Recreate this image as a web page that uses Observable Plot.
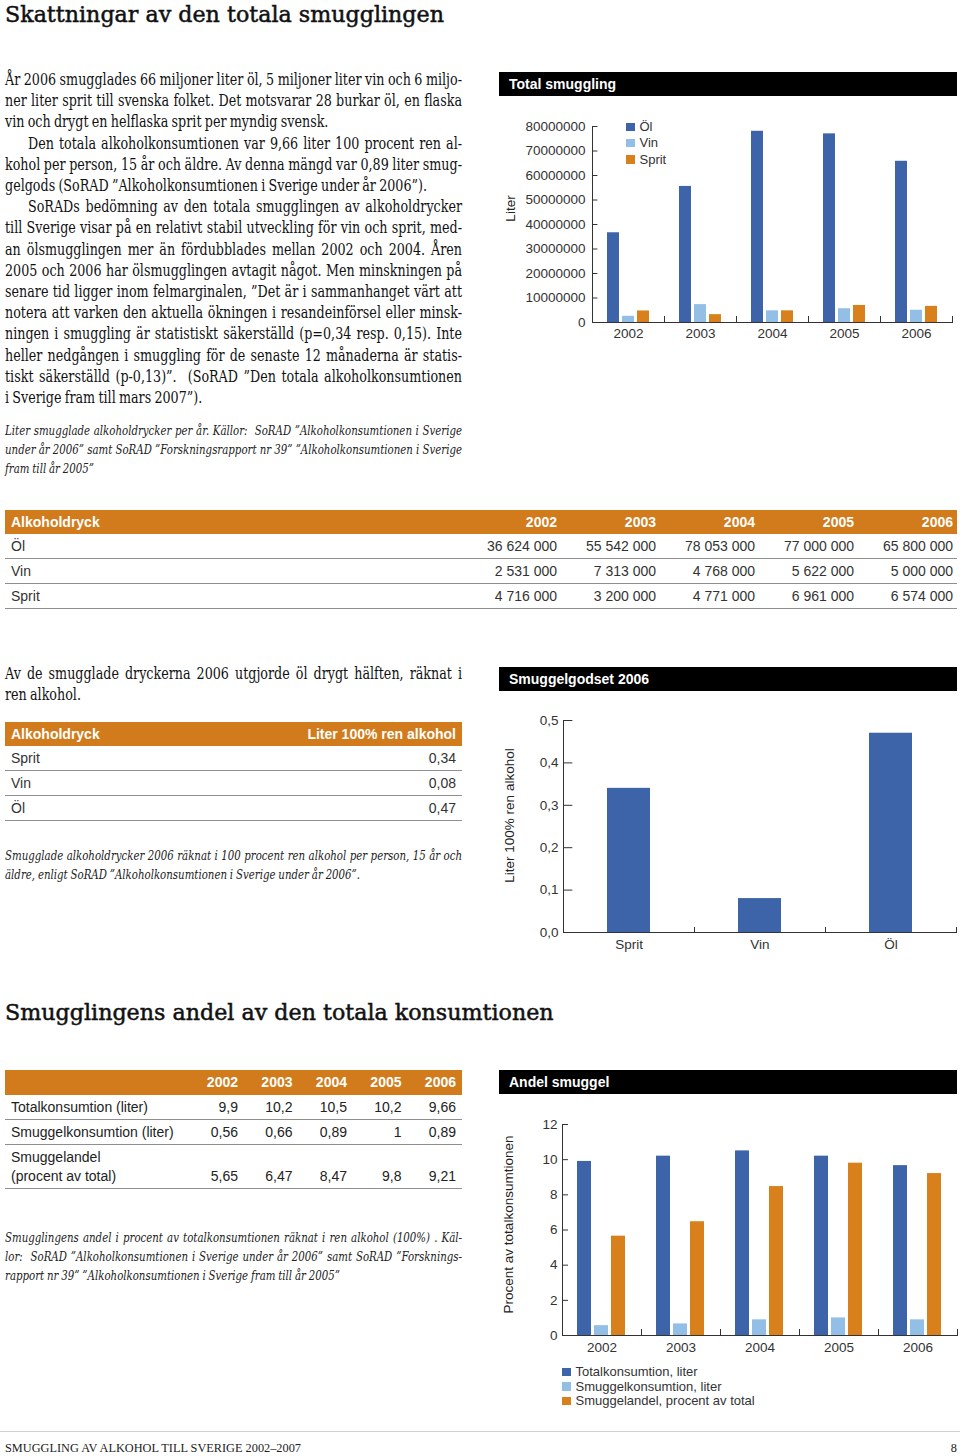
<!DOCTYPE html>
<html lang="sv">
<head>
<meta charset="utf-8">
<script src="https://cdn.jsdelivr.net/npm/d3@7"></script>
<script src="https://cdn.jsdelivr.net/npm/@observablehq/plot@0.6"></script>
<style>
html,body{margin:0;padding:0;background:#fff;}
#page{position:relative;width:960px;height:1456px;overflow:hidden;color:#1a1a1a;}
.a{position:absolute;}
.h{font-family:"DejaVu Serif",serif;font-size:22.2px;line-height:1;white-space:nowrap;color:#111;-webkit-text-stroke:0.5px #111;}
.txt{font-family:"DejaVu Serif",serif;font-size:16px;line-height:21.2px;width:457px;color:#111;word-spacing:-1px;}
.txt div,.cap div{text-align:justify;text-align-last:justify;}
.txt div.e,.cap div.e{text-align-last:left;}
.txt div.i{text-indent:23px;}
.cap{font-family:"DejaVu Serif",serif;font-style:italic;font-size:13px;line-height:19px;width:457px;color:#222;word-spacing:-0.5px;}
.bar{background:#000;color:#fff;font:bold 14px "Liberation Sans",Arial,sans-serif;height:24px;line-height:24px;padding-left:10px;box-sizing:border-box;width:458px;}
.tbl{font-family:"Liberation Sans",Arial,sans-serif;font-size:14px;color:#333;}
.tr{display:flex;height:24px;line-height:24px;border-bottom:1px solid #8f8f8f;}
.tr.hd{background:#d17b1c;color:#fff;font-weight:bold;border-bottom:none;}
.tr.hd.t3{height:25px;line-height:25px;}
.tr.tall{height:43px;line-height:19px;}
.c{box-sizing:border-box;white-space:nowrap;}
.c.l{padding-left:6px;text-align:left;}
.c.r{text-align:right;}
.leg{font-family:"Liberation Sans",Arial,sans-serif;font-size:13px;color:#333;white-space:nowrap;}
.sw{display:inline-block;width:8.5px;height:8.5px;margin-right:5px;vertical-align:0px;}
.foot{font-family:"Liberation Serif",serif;font-size:12.3px;line-height:14px;color:#222;}
</style>
</head>
<body>
<div id="page">
<div class="a h" style="left:5px;top:3px">Skattningar av den totala smugglingen</div>

<div class="a txt" style="left:5px;top:69px">
<div>År 2006 smugglades 66 miljoner liter öl, 5 miljoner liter vin och 6 miljo-</div>
<div>ner liter sprit till svenska folket. Det motsvarar 28 burkar öl, en flaska</div>
<div class="e">vin och drygt en helflaska sprit per myndig svensk.</div>
<div class="i">Den totala alkoholkonsumtionen var 9,66 liter 100 procent ren al-</div>
<div>kohol per person, 15 år och äldre. Av denna mängd var 0,89 liter smug-</div>
<div class="e">gelgods (SoRAD ”Alkoholkonsumtionen i Sverige under år 2006”).</div>
<div class="i">SoRADs bedömning av den totala smugglingen av alkoholdrycker</div>
<div>till Sverige visar på en relativt stabil utveckling för vin och sprit, med-</div>
<div>an ölsmugglingen mer än fördubblades mellan 2002 och 2004. Åren</div>
<div>2005 och 2006 har ölsmugglingen avtagit något. Men minskningen på</div>
<div>senare tid ligger inom felmarginalen, ”Det är i sammanhanget värt att</div>
<div>notera att varken den aktuella ökningen i resandeinförsel eller minsk-</div>
<div>ningen i smuggling är statistiskt säkerställd (p=0,34 resp. 0,15). Inte</div>
<div>heller nedgången i smuggling för de senaste 12 månaderna är statis-</div>
<div>tiskt säkerställd (p-0,13)”.&nbsp; (SoRAD ”Den totala alkoholkonsumtionen</div>
<div class="e">i Sverige fram till mars 2007”).</div>
</div>

<div class="a cap" style="left:5px;top:421px">
<div>Liter smugglade alkoholdrycker per år. Källor:&nbsp; SoRAD ”Alkoholkonsumtionen i Sverige</div>
<div>under år 2006” samt SoRAD ”Forskningsrapport nr 39” ”Alkoholkonsumtionen i Sverige</div>
<div class="e">fram till år 2005”</div>
</div>

<div class="a bar" style="left:499px;top:72px">Total smuggling</div>
<div class="a" id="chart1" style="left:495px;top:100px"></div>
<div class="a leg" id="leg1" style="left:626px;top:119px;line-height:16.3px"></div>

<div class="a tbl" id="t1" style="left:5px;top:510px;width:952px"></div>

<div class="a txt" style="left:5px;top:663px">
<div>Av de smugglade dryckerna 2006 utgjorde öl drygt hälften, räknat i</div>
<div class="e">ren alkohol.</div>
</div>

<div class="a tbl" id="t2" style="left:5px;top:722px;width:457px"></div>

<div class="a cap" style="left:5px;top:846px">
<div>Smugglade alkoholdrycker 2006 räknat i 100 procent ren alkohol per person, 15 år och</div>
<div class="e">äldre, enligt SoRAD ”Alkoholkonsumtionen i Sverige under år 2006”.</div>
</div>

<div class="a bar" style="left:499px;top:667px">Smuggelgodset 2006</div>
<div class="a" id="chart2" style="left:495px;top:700px"></div>

<div class="a h" style="left:5px;top:1001px">Smugglingens andel av den totala konsumtionen</div>

<div class="a tbl" id="t3" style="left:5px;top:1070px;width:457px;color:#222"></div>

<div class="a cap" style="left:5px;top:1228px">
<div>Smugglingens andel i procent av totalkonsumtionen räknat i ren alkohol (100%) . Käl-</div>
<div>lor:&nbsp; SoRAD ”Alkoholkonsumtionen i Sverige under år 2006” samt SoRAD ”Forsknings-</div>
<div class="e">rapport nr 39” ”Alkoholkonsumtionen i Sverige fram till år 2005”</div>
</div>

<div class="a bar" style="left:499px;top:1070px">Andel smuggel</div>
<div class="a" id="chart3" style="left:495px;top:1100px"></div>
<div class="a leg" id="leg3" style="left:562px;top:1365px;line-height:14.5px"></div>

<div class="a" style="left:0;top:1431px;width:960px;height:1px;background:#d0d0d0"></div>
<div class="a foot" style="left:5px;top:1441px">SMUGGLING AV ALKOHOL TILL SVERIGE 2002–2007</div>
<div class="a foot" style="left:940px;top:1441px;width:17px;text-align:right">8</div>
</div>

<script>
// ---------- data ----------
const years = ["2002", "2003", "2004", "2005", "2006"];
const drinks = ["Öl", "Vin", "Sprit"];
const olLiter = [36624000, 55542000, 78053000, 77000000, 65800000];
const vinLiter = [2531000, 7313000, 4768000, 5622000, 5000000];
const spritLiter = [4716000, 3200000, 4771000, 6961000, 6574000];
const literTicks = [0, 10000000, 20000000, 30000000, 40000000, 50000000, 60000000, 70000000, 80000000];

const alkDrinks = ["Sprit", "Vin", "Öl"];
const alkLiter = [0.34, 0.08, 0.47];
const alkTicks = [0, 0.1, 0.2, 0.3, 0.4, 0.5];

const andelRowLabels = ["Totalkonsumtion (liter)", "Smuggelkonsumtion (liter)", "Smuggelandel\n(procent av total)"];
const andelSeries = ["Totalkonsumtion, liter", "Smuggelkonsumtion, liter", "Smuggelandel, procent av total"];
const totalKons = [9.9, 10.2, 10.5, 10.2, 9.66];
const smuggelKons = [0.56, 0.66, 0.89, 1, 0.89];
const smuggelAndel = [5.65, 6.47, 8.47, 9.8, 9.21];
const andelTicks = [0, 2, 4, 6, 8, 10, 12];

// ---------- styles ----------
const blue = "#3d63a8", light = "#93bfe6", orange = "#d8801c";
const palette = [blue, light, orange];
const axisColor = "#333";
const plotStyle = {fontFamily: '"Liberation Sans", Arial, sans-serif', fontSize: "13.5px", color: "#333", background: "transparent", overflow: "visible"};

const literBy = {"Öl": olLiter, "Vin": vinLiter, "Sprit": spritLiter};
const andelBy = [totalKons, smuggelKons, smuggelAndel];
const fmtSpace = v => d3.format(",")(v).replace(/,/g, " ");
const fmtComma = v => String(v).replace(".", ",");

// ---------- text fitting (condensed serif look) ----------
function fitClass(sel, W, indentPx) {
  const blocks = [...document.querySelectorAll(sel)];
  let maxW = 0;
  blocks.forEach(b => {
    b.style.width = "3000px";
    [...b.children].forEach(l => {
      const sp = document.createElement("span");
      sp.style.whiteSpace = "nowrap";
      sp.style.display = "inline-block";
      sp.style.textIndent = "0";
      while (l.firstChild) sp.append(l.firstChild);
      l.append(sp);
      let w = sp.getBoundingClientRect().width;
      if (l.classList.contains("i")) w += indentPx / 0.7;
      maxW = Math.max(maxW, w);
      while (sp.firstChild) l.append(sp.firstChild);
      sp.remove();
    });
  });
  const s = Math.min(1, (W - 3) / maxW);
  blocks.forEach(b => {
    b.style.width = (W / s) + "px";
    b.style.transformOrigin = "0 0";
    b.style.transform = `scaleX(${s})`;
    [...b.children].forEach(l => { if (l.classList.contains("i")) l.style.textIndent = (indentPx / s) + "px"; });
  });
}
fitClass(".txt", 457, 23);
fitClass(".cap", 457, 0);

// ---------- helpers ----------
function div(cls, text, style) {
  const d = document.createElement("div");
  d.className = cls;
  if (text != null) d.textContent = text;
  if (style) d.setAttribute("style", style);
  return d;
}

// ---------- table 1 ----------
{
  const t = document.getElementById("t1");
  const hd = div("tr hd");
  hd.append(div("c l", "Alkoholdryck", "width:457px"));
  years.forEach(y => hd.append(div("c r", y, "width:99px;padding-right:4px")));
  t.append(hd);
  drinks.forEach(dr => {
    const r = div("tr");
    r.append(div("c l", dr, "width:457px"));
    literBy[dr].forEach(v => r.append(div("c r", fmtSpace(v), "width:99px;padding-right:4px")));
    t.append(r);
  });
}
// ---------- table 2 ----------
{
  const t = document.getElementById("t2");
  const hd = div("tr hd");
  hd.append(div("c l", "Alkoholdryck", "flex:1"));
  hd.append(div("c r", "Liter 100% ren alkohol", "padding-right:6px"));
  t.append(hd);
  alkDrinks.forEach((dr, i) => {
    const r = div("tr");
    r.append(div("c l", dr, "flex:1"));
    r.append(div("c r", fmtComma(alkLiter[i]), "padding-right:6px"));
    t.append(r);
  });
}
// ---------- table 3 ----------
{
  const t = document.getElementById("t3");
  const hd = div("tr hd t3");
  hd.append(div("c l", "", "width:184.5px"));
  years.forEach(y => hd.append(div("c r", y, "width:54.5px;padding-right:6px")));
  t.append(hd);
  andelRowLabels.forEach((lab, k) => {
    const tall = lab.includes("\n");
    const r = div(tall ? "tr tall" : "tr");
    r.append(div("c l", lab, "width:184.5px;white-space:pre-line" + (tall ? ";padding-top:3px" : "")));
    andelBy[k].forEach(v => r.append(div("c r", fmtComma(v), "width:54.5px;padding-right:6px" + (tall ? ";padding-top:22px" : ""))));
    t.append(r);
  });
}

// ---------- legends ----------
function legend(id, names) {
  const el = document.getElementById(id);
  names.forEach((n, i) => {
    const row = document.createElement("div");
    const sw = document.createElement("span");
    sw.className = "sw";
    sw.style.background = palette[i];
    row.append(sw, document.createTextNode(n));
    el.append(row);
  });
}
legend("leg1", drinks);
legend("leg3", andelSeries);

// ---------- chart 1 ----------
const data1 = years.flatMap((year, i) => drinks.map(drink => ({year, drink, value: literBy[drink][i]})));
document.getElementById("chart1").append(Plot.plot({
  width: 465, height: 250,
  marginLeft: 95, marginRight: 7, marginTop: 26, marginBottom: 28,
  style: plotStyle,
  fx: {domain: years, padding: 0},
  x: {domain: drinks, paddingInner: 0.19, paddingOuter: 0.86, axis: null},
  y: {domain: [0, 80000000]},
  color: {domain: drinks, range: palette},
  marks: [
    Plot.barY(data1, {fx: "year", x: "drink", y: "value", fill: "drink"}),
    Plot.ruleY(literTicks, {stroke: axisColor, insetRight: 72.6 - 6, facetAnchor: "left"}),
    Plot.frame({anchor: "bottom", stroke: axisColor}),
    Plot.frame({anchor: "right", stroke: axisColor, insetTop: 190}),
    Plot.frame({anchor: "left", stroke: axisColor, facetAnchor: "left"}),
    Plot.axisY({ticks: literTicks, tickFormat: d3.format("d"), tickSize: 0, tickPadding: 7, label: null}),
    Plot.axisFx({anchor: "bottom", tickSize: 0, tickPadding: 6, label: null}),
    Plot.text(["Liter"], {text: d => d, frameAnchor: "left", textAnchor: "middle", rotate: -90, dx: -82, dy: -16, facetAnchor: "left", fill: "#222", fontSize: 13.5})
  ]
}));

// ---------- chart 2 ----------
const data2 = alkDrinks.map((drink, i) => ({drink, value: alkLiter[i]}));
document.getElementById("chart2").append(Plot.plot({
  width: 465, height: 265,
  marginLeft: 67, marginRight: 3, marginTop: 20, marginBottom: 33,
  style: plotStyle,
  fx: {domain: alkDrinks, padding: 0},
  y: {domain: [0, 0.5]},
  marks: [
    Plot.barY(data2, {fx: "drink", y: "value", fill: blue, insetLeft: 44, insetRight: 44}),
    Plot.ruleY(alkTicks, {stroke: axisColor, insetRight: 395 / 3 - 10, facetAnchor: "left"}),
    Plot.frame({anchor: "bottom", stroke: axisColor}),
    Plot.frame({anchor: "right", stroke: axisColor, insetTop: 207}),
    Plot.frame({anchor: "left", stroke: axisColor, facetAnchor: "left"}),
    Plot.axisY({ticks: alkTicks, tickFormat: d => d.toFixed(1).replace(".", ","), tickSize: 0, tickPadding: 5, label: null}),
    Plot.axisFx({anchor: "bottom", tickSize: 0, tickPadding: 7, label: null}),
    Plot.text(["Liter 100% ren alkohol"], {text: d => d, frameAnchor: "left", textAnchor: "middle", rotate: -90, dx: -54, dy: -11, facetAnchor: "left", fill: "#222", fontSize: 13.5})
  ]
}));

// ---------- chart 3 ----------
const data3 = years.flatMap((year, i) => andelSeries.map((series, k) => ({year, series, value: andelBy[k][i]})));
document.getElementById("chart3").append(Plot.plot({
  width: 465, height: 260,
  marginLeft: 67, marginRight: 3, marginTop: 24, marginBottom: 25,
  style: plotStyle,
  fx: {domain: years, padding: 0},
  x: {domain: andelSeries, paddingInner: 0.176, paddingOuter: 0.91, axis: null},
  y: {domain: [0, 12]},
  color: {domain: andelSeries, range: palette},
  marks: [
    Plot.barY(data3, {fx: "year", x: "series", y: "value", fill: "series"}),
    Plot.ruleY(andelTicks, {stroke: axisColor, insetRight: 79 - 6, facetAnchor: "left"}),
    Plot.frame({anchor: "bottom", stroke: axisColor}),
    Plot.frame({anchor: "right", stroke: axisColor, insetTop: 205}),
    Plot.frame({anchor: "left", stroke: axisColor, facetAnchor: "left"}),
    Plot.axisY({ticks: andelTicks, tickFormat: d => String(d), tickSize: 0, tickPadding: 5, label: null}),
    Plot.axisFx({anchor: "bottom", tickSize: 0, tickPadding: 7, label: null}),
    Plot.text(["Procent av totalkonsumtionen"], {text: d => d, frameAnchor: "left", textAnchor: "middle", rotate: -90, dx: -54, dy: -5.5, facetAnchor: "left", fill: "#222", fontSize: 13.5})
  ]
}));
</script>
</body>
</html>
